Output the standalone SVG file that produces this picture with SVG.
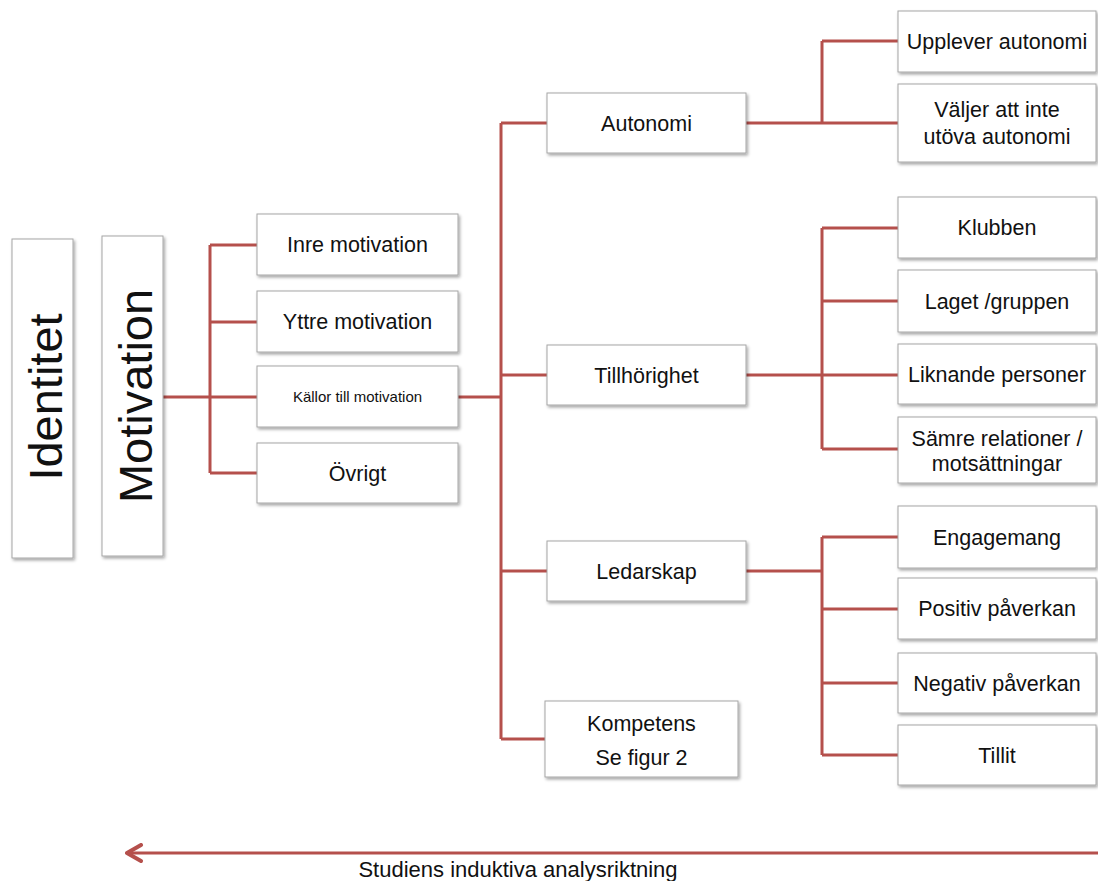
<svg xmlns="http://www.w3.org/2000/svg" width="1098" height="881" viewBox="0 0 1098 881">
<defs>
<filter id="sh" x="-10%" y="-10%" width="130%" height="130%">
<feDropShadow dx="1.5" dy="2" stdDeviation="1.5" flood-color="#000" flood-opacity="0.35"/>
</filter>
<marker id="ah" markerWidth="20" markerHeight="20" refX="18" refY="10" orient="auto" markerUnits="userSpaceOnUse">
<path d="M4,2 L18,10 L4,18" fill="none" stroke="#b5504c" stroke-width="4" stroke-linecap="round" stroke-linejoin="round"/>
</marker>
</defs>
<style>
.box{fill:#fff;stroke:#a6a6a6;stroke-width:1;filter:url(#sh)}
.t{font-family:"Liberation Sans",Arial,sans-serif;font-size:21.5px;fill:#111;text-anchor:middle}
.big{font-family:"Liberation Sans",Arial,sans-serif;font-size:47px;fill:#111;text-anchor:middle}
.c{fill:none;stroke:#b5504c;stroke-width:3}
</style>
<rect width="1098" height="881" fill="#fff"/>
<g id="connectors">
<path class="c" d="M163,397 H210 M210,245 V473 M210,245 H257 M210,322 H257 M210,397 H257 M210,473 H257"/>
<path class="c" d="M458,397 H501 M501,123 V739 M501,123 H547 M501,375 H547 M501,571 H547 M501,739 H545"/>
<path class="c" d="M746,123 H822 M822,41 V123 M822,41 H898 M822,123 H898"/>
<path class="c" d="M746,375 H822 M822,228 V449 M822,228 H898 M822,301 H898 M822,375 H898 M822,449 H898"/>
<path class="c" d="M746,571 H822 M822,537 V755 M822,537 H898 M822,609 H898 M822,683 H898 M822,755 H898"/>
<path class="c" d="M1098,853 H127" stroke-width="3.5" marker-end="url(#ah)"/>
</g>
<g id="identitet"><rect class="box" x="12" y="239" width="61" height="319"/><text class="big" transform="translate(62,397) rotate(-90)">Identitet</text></g>
<g id="motivation"><rect class="box" x="102" y="236" width="61" height="320"/><text class="big" transform="translate(152,396) rotate(-90)">Motivation</text></g>
<g id="inre"><rect class="box" x="257" y="214" width="201" height="61"/><text class="t" x="357.5" y="252">Inre motivation</text></g>
<g id="yttre"><rect class="box" x="257" y="291" width="201" height="61"/><text class="t" x="357.5" y="329">Yttre motivation</text></g>
<g id="kallor"><rect class="box" x="257" y="366" width="201" height="61"/><text class="t" x="357.5" y="402" style="font-size:15px">Källor till motivation</text></g>
<g id="ovrigt"><rect class="box" x="257" y="443" width="201" height="60"/><text class="t" x="357.5" y="481">Övrigt</text></g>
<g id="autonomi"><rect class="box" x="547" y="93" width="199" height="60"/><text class="t" x="646.5" y="131">Autonomi</text></g>
<g id="tillhorighet"><rect class="box" x="547" y="345" width="199" height="60"/><text class="t" x="646.5" y="383">Tillhörighet</text></g>
<g id="ledarskap"><rect class="box" x="547" y="541" width="199" height="60"/><text class="t" x="646.5" y="579">Ledarskap</text></g>
<g id="kompetens"><rect class="box" x="545" y="701" width="193" height="76"/><text class="t" x="641.5" y="731">Kompetens</text><text class="t" x="641.5" y="765">Se figur 2</text></g>
<g id="upplever"><rect class="box" x="898" y="11" width="198" height="61"/><text class="t" x="997" y="49">Upplever autonomi</text></g>
<g id="valjer"><rect class="box" x="898" y="84" width="198" height="78"/><text class="t" x="997" y="117">Väljer att inte</text><text class="t" x="997" y="144">utöva autonomi</text></g>
<g id="klubben"><rect class="box" x="898" y="197" width="198" height="61"/><text class="t" x="997" y="235">Klubben</text></g>
<g id="laget"><rect class="box" x="898" y="270" width="198" height="62"/><text class="t" x="997" y="309">Laget /gruppen</text></g>
<g id="liknande"><rect class="box" x="898" y="344" width="198" height="60"/><text class="t" x="997" y="382">Liknande personer</text></g>
<g id="samre"><rect class="box" x="898" y="417" width="198" height="66"/><text class="t" x="997" y="446">Sämre relationer /</text><text class="t" x="997" y="471">motsättningar</text></g>
<g id="engagemang"><rect class="box" x="898" y="506" width="198" height="62"/><text class="t" x="997" y="545">Engagemang</text></g>
<g id="positiv"><rect class="box" x="898" y="578" width="198" height="61"/><text class="t" x="997" y="616">Positiv påverkan</text></g>
<g id="negativ"><rect class="box" x="898" y="653" width="198" height="60"/><text class="t" x="997" y="691">Negativ påverkan</text></g>
<g id="tillit"><rect class="box" x="898" y="725" width="198" height="60"/><text class="t" x="997" y="763">Tillit</text></g>
<g id="label"><text class="t" x="518" y="877" style="font-size:22px">Studiens induktiva analysriktning</text></g>
</svg>
